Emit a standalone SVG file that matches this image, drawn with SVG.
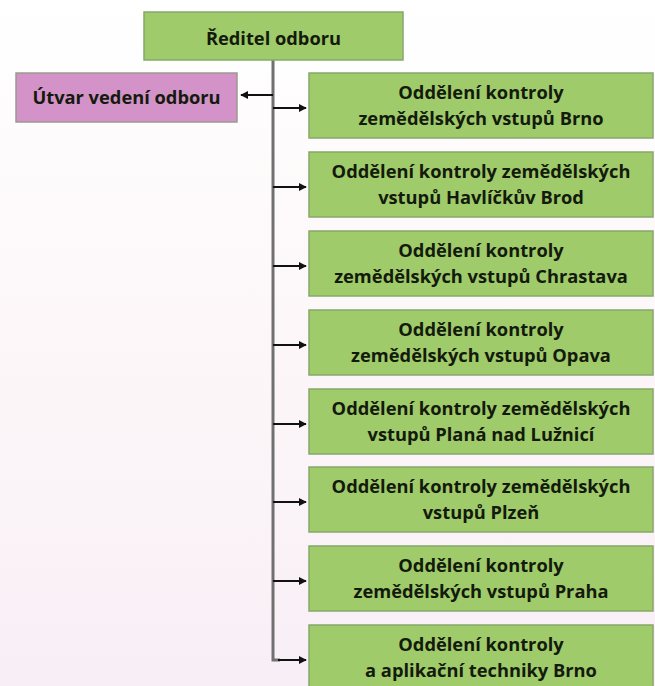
<svg xmlns="http://www.w3.org/2000/svg" width="655" height="686" viewBox="0 0 655 686">
<defs>
<linearGradient id="bg" x1="0" y1="0" x2="0" y2="1">
<stop offset="0" stop-color="#ffffff"/>
<stop offset="0.4" stop-color="#fdf8f9"/>
<stop offset="1" stop-color="#f8eff6"/>
</linearGradient>
<marker id="ah" viewBox="0 0 10 10" refX="9" refY="5" markerWidth="4" markerHeight="4" orient="auto" markerUnits="strokeWidth">
<path d="M0,0 L10,5 L0,10 z" fill="#111"/>
</marker>
<style>
.g{fill:#9fcb6b;stroke:#86a86a;stroke-width:1.5}
.p{fill:#d393c9;stroke:#9a9a8e;stroke-width:1.5}
.t{font-family:"Open Sans","Lato","Liberation Sans",sans-serif;font-weight:bold;font-size:18.3px;fill:#141a0c;text-anchor:middle}
.trunk{stroke:#707070;stroke-width:3;fill:none}
.arr{stroke:#111;stroke-width:2;fill:none;marker-end:url(#ah)}
</style>
</defs>
<rect width="655" height="686" fill="url(#bg)"/>
<g id="connectors">
<path class="trunk" d="M273,60 V660 H280"/>
<line class="arr" x1="273" y1="95" x2="241" y2="95"/>
<line class="arr" x1="273" y1="108" x2="306" y2="108"/>
<line class="arr" x1="273" y1="187" x2="306" y2="187"/>
<line class="arr" x1="273" y1="266" x2="306" y2="266"/>
<line class="arr" x1="273" y1="345" x2="306" y2="345"/>
<line class="arr" x1="273" y1="424" x2="306" y2="424"/>
<line class="arr" x1="273" y1="502" x2="306" y2="502"/>
<line class="arr" x1="273" y1="581" x2="306" y2="581"/>
<line class="arr" x1="278" y1="660" x2="306" y2="660"/>
</g>
<g id="reditel">
<rect class="g" x="144" y="12" width="259" height="48"/>
<text class="t" x="273.5" y="45">Ředitel odboru</text>
</g>
<g id="utvar">
<rect class="p" x="16" y="73" width="221" height="49"/>
<text class="t" x="126.5" y="104">Útvar vedení odboru</text>
</g>
<g id="brno">
<rect class="g" x="309" y="73" width="344" height="65"/>
<text class="t" x="481" y="98.5">Oddělení kontroly</text>
<text class="t" x="481" y="125">zemědělských vstupů Brno</text>
</g>
<g id="havlickuv-brod">
<rect class="g" x="309" y="152" width="344" height="65"/>
<text class="t" x="481" y="177.5">Oddělení kontroly zemědělských</text>
<text class="t" x="481" y="204">vstupů Havlíčkův Brod</text>
</g>
<g id="chrastava">
<rect class="g" x="309" y="231" width="344" height="65"/>
<text class="t" x="481" y="256.5">Oddělení kontroly</text>
<text class="t" x="481" y="283">zemědělských vstupů Chrastava</text>
</g>
<g id="opava">
<rect class="g" x="309" y="310" width="344" height="65"/>
<text class="t" x="481" y="335.5">Oddělení kontroly</text>
<text class="t" x="481" y="362">zemědělských vstupů Opava</text>
</g>
<g id="plana">
<rect class="g" x="309" y="389" width="344" height="65"/>
<text class="t" x="481" y="414.5">Oddělení kontroly zemědělských</text>
<text class="t" x="481" y="441">vstupů Planá nad Lužnicí</text>
</g>
<g id="plzen">
<rect class="g" x="309" y="467" width="344" height="65"/>
<text class="t" x="481" y="492.5">Oddělení kontroly zemědělských</text>
<text class="t" x="481" y="519">vstupů Plzeň</text>
</g>
<g id="praha">
<rect class="g" x="309" y="546" width="344" height="65"/>
<text class="t" x="481" y="571.5">Oddělení kontroly</text>
<text class="t" x="481" y="598">zemědělských vstupů Praha</text>
</g>
<g id="aplikacni">
<rect class="g" x="309" y="625" width="344" height="65"/>
<text class="t" x="481" y="650.5">Oddělení kontroly</text>
<text class="t" x="481" y="677">a aplikační techniky Brno</text>
</g>
</svg>
